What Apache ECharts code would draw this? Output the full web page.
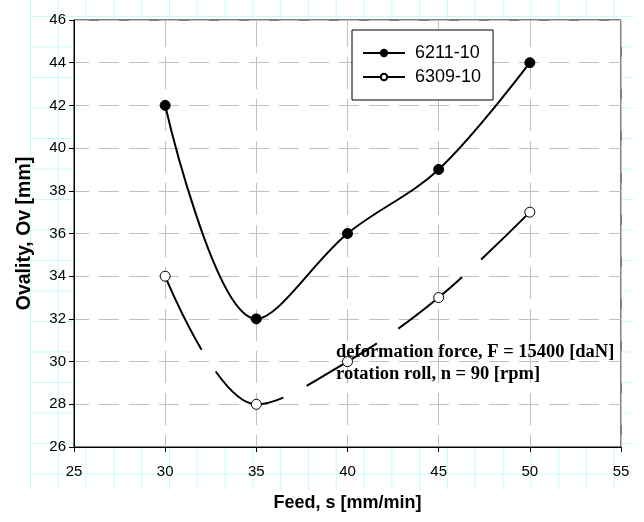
<!DOCTYPE html>
<html>
<head>
<meta charset="utf-8">
<script src="https://cdn.jsdelivr.net/npm/echarts@6/dist/echarts.min.js"></script>
<style>
  html, body { margin: 0; padding: 0; background: #fff; }
  #bg {
    position: absolute; left: 30px; top: 0; width: 602px; height: 490px;
    background-image: linear-gradient(to right, #c8fafa 1px, transparent 1px),
                      linear-gradient(to bottom, #c8fafa 1px, transparent 1px);
    background-size: 27.8px 100%, 100% 30.5px;
    background-position: 0 0, 0 16px;
  }
  #main { position: absolute; left: 0; top: 0; width: 644px; height: 522px; }
</style>
</head>
<body>
<div id="bg"></div>
<div id="main"></div>
<script>
// feed values (mm/min) and ovality readings
var feed = [30, 35, 40, 45, 50];
var ov6211 = [42, 32, 36, 39, 44];
var ov6309 = [34, 28, 30, 33, 37];
var seriesNames = ['6211-10', '6309-10'];

function pairs(xs, ys) {
    var out = [];
    for (var i = 0; i < xs.length; i++) {
        out.push([xs[i], ys[i]]);
    }
    return out;
}

var sans = 'Arial, "Liberation Sans"';
var serifFont = 'bold 18.5px "Times New Roman", "Liberation Serif", serif';

var oChart = echarts.init(document.getElementById('main'));

var chartopt = {
    animation: false,
    backgroundColor: 'transparent',
    grid: {
        show: true,
        left: 74,
        top: 20,
        right: 23,
        bottom: 75,
        backgroundColor: '#fff',
        borderColor: '#000',
        borderWidth: 1
    },
    legend: {
        orient: 'vertical',
        left: 352,
        top: 30,
        data: seriesNames,
        backgroundColor: '#fff',
        borderColor: '#000',
        borderWidth: 1,
        borderRadius: 0,
        padding: [14, 12, 14, 10],
        itemWidth: 42,
        itemHeight: 8,
        itemGap: 6,
        textStyle: {
            fontFamily: sans,
            fontSize: 18,
            color: '#000',
            padding: [0, 0, 0, 5]
        }
    },
    xAxis: {
        type: 'value',
        min: 25,
        max: 55,
        interval: 5,
        name: 'Feed, s [mm/min]',
        nameLocation: 'middle',
        nameGap: 47,
        nameTextStyle: {
            fontFamily: sans,
            fontWeight: 'bold',
            fontSize: 18,
            color: '#000'
        },
        axisLine: { lineStyle: { color: '#000', width: 1 } },
        axisTick: { show: true, length: 5, lineStyle: { color: '#000' } },
        axisLabel: {
            margin: 17,
            fontFamily: sans,
            fontSize: 15,
            color: '#000'
        },
        splitLine: {
            show: true,
            lineStyle: { color: '#c0c0c0', width: 1, type: [32, 10], dashOffset: 5 }
        }
    },
    yAxis: {
        type: 'value',
        min: 26,
        max: 46,
        interval: 2,
        name: 'Ovality, Ov [mm]',
        nameLocation: 'middle',
        nameGap: 39,
        nameTextStyle: {
            fontFamily: sans,
            fontWeight: 'bold',
            fontSize: 19.5,
            color: '#000'
        },
        axisLine: { show: true, lineStyle: { color: '#000', width: 1 } },
        axisTick: { show: true, length: 5, lineStyle: { color: '#000' } },
        axisLabel: {
            margin: 8,
            fontFamily: sans,
            fontSize: 15,
            color: '#000'
        },
        splitLine: {
            show: true,
            lineStyle: { color: '#c0c0c0', width: 1, type: [20, 10], dashOffset: 5 }
        }
    },
    series: [{
        name: seriesNames[0],
        type: 'line',
        smooth: 0.35,
        data: pairs(feed, ov6211),
        symbol: 'circle',
        symbolSize: 10,
        itemStyle: { color: '#000', borderColor: '#000', borderWidth: 1 },
        lineStyle: { color: '#000', width: 2 }
    }, {
        name: seriesNames[1],
        type: 'line',
        smooth: 0.35,
        data: pairs(feed, ov6309),
        symbol: 'circle',
        symbolSize: 10,
        itemStyle: { color: '#fff', borderColor: '#000', borderWidth: 1 },
        lineStyle: { color: '#000', width: 2, type: [82, 26], dashOffset: 0 }
    }],
    graphic: [{
        type: 'text',
        left: 336,
        top: 343,
        style: {
            text: 'deformation force, F = 15400 [daN]',
            font: serifFont,
            fill: '#000'
        },
        z: 100
    }, {
        type: 'text',
        left: 336,
        top: 365,
        style: {
            text: 'rotation roll, n = 90 [rpm]',
            font: serifFont,
            fill: '#000'
        },
        z: 100
    }]
};

oChart.setOption(chartopt);
</script>
</body>
</html>
